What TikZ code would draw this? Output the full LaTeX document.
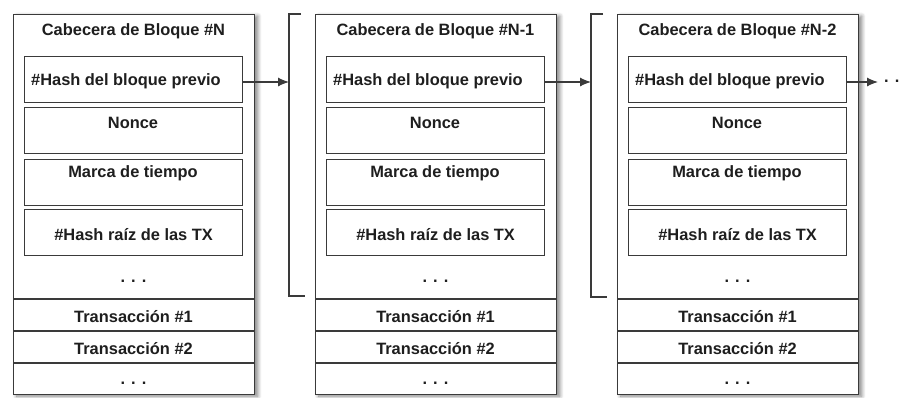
\documentclass[tikz,border=0pt]{standalone}
\usepackage{fontspec}
\setmainfont{Liberation Sans}
\usetikzlibrary{arrows.meta,shadows.blur}
\definecolor{edge}{HTML}{3A3A3A}
\definecolor{ink}{HTML}{1E1E1E}
\begin{document}
\begin{tikzpicture}[x=1pt,y=-1pt,
  label/.style={inner sep=0pt, yshift=-1.5pt, font=\fontsize{16.4}{18}\selectfont\bfseries, text=ink},
  blockframe/.style={draw=edge, line width=1.4pt, fill=white, rectangle, inner sep=0pt,
    minimum width=241pt, minimum height=380pt, anchor=north west,
    blur shadow={shadow xshift=3pt, shadow yshift=-1.5pt, shadow blur radius=4pt,
      shadow blur steps=6, shadow opacity=50}},
  field/.style={draw=edge, line width=1.2pt, rectangle, inner sep=0pt,
    minimum width=218pt, minimum height=46pt, anchor=north west},
  rowline/.style={draw=edge, line width=1.3pt},
  bracket/.style={draw=edge, line width=1.3pt},
  link/.style={draw=edge, line width=1.1pt, -{Latex[length=11pt,width=9pt]}}]

\useasboundingbox (0,0) rectangle (902,397);

% three chained blocks: header fields on top, transactions below
\foreach \i/\ox/\tag in {1/13/N, 2/315/N-1, 3/617/N-2} {
  \node[blockframe] (b\i) at (\ox,14) {};
  \node[label] (t\i) at (\ox+120.5,30) {Cabecera de Bloque \#\tag};
  % header fields
  \node[field] (h\i) at (\ox+11,56) {};
  \node[label, anchor=west] (hl\i) at ([xshift=7pt]h\i.west) {\#Hash del bloque previo};
  \node[field] (n\i) at (\ox+11,107) {};
  \node[label] (nl\i) at (\ox+120,121) {Nonce};
  \node[field] (m\i) at (\ox+11,159) {};
  \node[label] (ml\i) at (\ox+120,172) {Marca de tiempo};
  \node[field] (r\i) at (\ox+11,209) {};
  \node[label] (rl\i) at (r\i.center) {\#Hash raíz de las TX};
  \node[label] (d\i) at (\ox+120.5,280) {. . .};
  % transaction rows
  \draw[rowline] (\ox,299) -- (\ox+241,299);
  \node[label] (x\i) at (\ox+120.5,315) {Transacción \#1};
  \draw[rowline] (\ox,331) -- (\ox+241,331);
  \node[label] (y\i) at (\ox+120.5,347) {Transacción \#2};
  \draw[rowline] (\ox,363) -- (\ox+241,363);
  \node[label] (z\i) at (\ox+120.5,382) {. . .};
}

% brackets marking the header span of the referenced blocks
\draw[bracket] (301,14) -- (289,14) -- (289,296) -- (305,296);
\draw[bracket] (603,14) -- (591,14) -- (591,297) -- (607,297);

% hash links from each block to the previous header
\coordinate (k2) at (289,82);
\coordinate (k3) at (591,82);
\coordinate (k4) at (878,82);
\draw[link] (h1.east |- k2) -- (k2);
\draw[link] (h2.east |- k3) -- (k3);
\draw[link] (h3.east |- k4) -- (k4);
\node[label, anchor=west] (more) at (884,80) {. .};
\end{tikzpicture}
\end{document}
